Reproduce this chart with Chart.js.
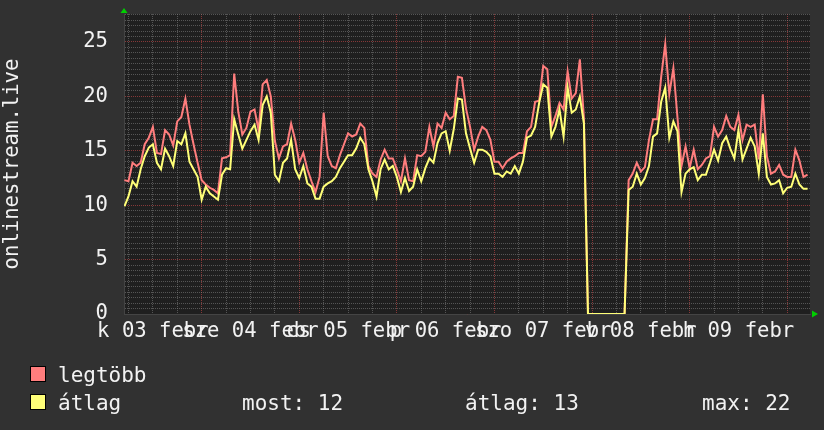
<!DOCTYPE html>
<html>
<head>
<meta charset="utf-8">
<script src="https://cdn.jsdelivr.net/npm/chart.js@4.4.1/dist/chart.umd.min.js"></script>
<style>
html, body { margin: 0; padding: 0; background: #313131; }
#wrap { position: relative; width: 824px; height: 430px; overflow: hidden; }
#chart { position: absolute; left: 0; top: 0; }
.leg { position: absolute; font-family: "DejaVu Sans Mono", monospace; font-size: 21px; line-height: 21px; color: #f2f2f2; white-space: pre; }
.box { position: absolute; width: 14px; height: 14px; border: 1px solid #000; }
</style>
</head>
<body>
<div id="wrap">
<canvas id="chart" width="824" height="430"></canvas>
<div class="box" style="left:30px; top:366px; background:#ff7d7d;"></div>
<div class="leg" style="left:58px; top:365px;">legtöbb</div>
<div class="box" style="left:30px; top:394px; background:#ffff78;"></div>
<div class="leg" style="left:58px; top:393px;">átlag</div>
<div class="leg" id="stMost" style="left:242px; top:393px;"></div>
<div class="leg" id="stAtlag" style="left:465px; top:393px;"></div>
<div class="leg" id="stMax" style="left:702px; top:393px;"></div>
</div>
<script>
// hourly samples, first one at 3 Feb 05:00 (hour 5 counted from 3 Feb 00:00)
const startHour = 5;
const legtobb = [
  12.3, 12.2, 13.9, 13.6, 13.9, 15.6, 16.2, 17.2, 14.8, 14.7, 16.9, 16.5, 15.5, 17.7, 18.1, 19.8, 17.4, 15.6, 13.9,
  12.3, 11.9, 11.6, 11.4, 11.1, 14.3, 14.4, 14.6, 22.1, 18.6, 16.5, 17.1, 18.6, 18.8, 16.9, 21.1, 21.5, 20.0, 15.9,
  14.3, 15.4, 15.6, 17.5, 16.0, 13.9, 14.8, 13.3, 12.2, 11.2, 12.6, 18.5, 14.5, 13.6, 13.4, 14.6, 15.6, 16.6, 16.3,
  16.5, 17.5, 17.1, 13.6, 12.9, 12.6, 14.2, 15.1, 14.3, 14.3, 13.3, 12.2, 14.3, 12.3, 12.2, 14.6, 14.5, 14.9, 17.2,
  15.4, 17.5, 17.1, 18.5, 17.9, 18.2, 21.8, 21.7, 18.9, 17.2, 15.1, 16.3, 17.2, 16.9, 16.0, 14.0, 14.0, 13.4, 14.0,
  14.3, 14.5, 14.8, 14.8, 16.8, 17.2, 19.5, 19.6, 22.8, 22.5, 17.2, 18.2, 19.4, 18.8, 22.3, 19.8, 20.3, 23.4, 18.0,
  0, 0, 0, 0, 0, 0, 0, 0, 0, 0,
  12.3, 12.9, 13.9, 13.1, 13.5, 16.0, 17.9, 17.9, 21.8, 24.8, 20.2, 22.6, 18.1, 13.6, 15.4, 13.4, 15.1, 13.3, 13.7,
  14.3, 14.5, 17.2, 16.3, 16.9, 18.2, 17.2, 16.9, 18.3, 16.0, 17.4, 17.2, 17.4, 14.2, 20.2, 14.5, 12.9, 13.1, 13.7,
  12.8, 12.6, 12.6, 15.1, 14.1, 12.6, 12.8
];
const atlag = [
  9.9, 10.8, 12.2, 11.7, 13.3, 14.5, 15.3, 15.6, 13.9, 13.3, 15.2, 14.5, 13.6, 15.9, 15.6, 16.6, 14.0, 13.3, 12.6,
  10.5, 11.7, 11.1, 10.8, 10.5, 12.8, 13.4, 13.3, 17.9, 16.5, 15.2, 16.0, 16.8, 17.4, 16.0, 19.2, 20.0, 18.5, 12.8,
  12.2, 13.9, 14.3, 16.0, 13.3, 12.5, 13.6, 12.0, 11.7, 10.6, 10.6, 11.7, 12.0, 12.2, 12.6, 13.4, 14.0, 14.6, 14.6,
  15.2, 16.2, 15.6, 13.3, 12.2, 10.8, 13.3, 14.2, 13.3, 13.6, 12.6, 11.2, 12.5, 11.3, 11.7, 13.3, 12.2, 13.4, 14.3,
  13.9, 15.7, 16.6, 16.8, 15.0, 17.0, 19.8, 19.7, 16.6, 15.2, 13.9, 15.1, 15.1, 14.9, 14.5, 12.9, 12.9, 12.6, 13.1,
  12.9, 13.6, 12.9, 14.0, 16.2, 16.4, 17.2, 19.4, 21.1, 20.8, 16.3, 17.2, 18.8, 16.3, 20.8, 18.5, 18.8, 20.0, 17.5,
  0, 0, 0, 0, 0, 0, 0, 0, 0, 0,
  11.4, 11.7, 12.9, 11.9, 12.5, 13.6, 16.3, 16.6, 19.5, 20.8, 16.2, 17.7, 16.8, 11.2, 12.9, 13.3, 13.5, 12.3, 12.8,
  12.8, 13.9, 15.1, 14.1, 15.7, 16.3, 15.2, 14.3, 16.9, 14.2, 15.2, 16.2, 15.4, 12.9, 16.6, 12.6, 11.9, 12.0, 12.3,
  11.1, 11.6, 11.7, 12.9, 11.9, 11.5, 11.5
];
// day labels centred at noon, Hungarian short names
const dayLabels = ['k 03 febr', 'sze 04 febr', 'cs 05 febr', 'p 06 febr', 'szo 07 febr', 'v 08 febr', 'h 09 febr'];
const yLabelValues = [0, 5, 10, 15, 20, 25];
const stats = { most: 12, atlag: 13, max: 22 };

document.getElementById('stMost').textContent = 'most: ' + stats.most;
document.getElementById('stAtlag').textContent = 'átlag: ' + stats.atlag;
document.getElementById('stMax').textContent = 'max: ' + stats.max;

const toPoints = arr => arr.map((v, i) => ({ x: startHour + i, y: v }));

const minorGrid = 'rgba(140,140,140,0.5)';
const majorGrid = 'rgba(190,70,70,0.65)';
const monoFont = { family: '"DejaVu Sans Mono", monospace', size: 20.6 };

// plot background + green axis arrows
const rrdDecor = {
  id: 'rrdDecor',
  beforeDraw(chart) {
    const { ctx, chartArea: a } = chart;
    ctx.save();
    ctx.fillStyle = '#1f1f1f';
    ctx.fillRect(a.left, a.top, a.right - a.left, a.bottom - a.top);
    ctx.restore();
  },
  afterDraw(chart) {
    const { ctx, chartArea: a } = chart;
    ctx.save();
    ctx.fillStyle = '#00d000';
    ctx.beginPath();
    ctx.moveTo(a.left - 3.5, a.top - 1);
    ctx.lineTo(a.left + 3.5, a.top - 1);
    ctx.lineTo(a.left, a.top - 6);
    ctx.closePath();
    ctx.fill();
    ctx.beginPath();
    ctx.moveTo(a.right + 2, a.bottom - 3.5);
    ctx.lineTo(a.right + 2, a.bottom + 3.5);
    ctx.lineTo(a.right + 8, a.bottom);
    ctx.closePath();
    ctx.fill();
    ctx.restore();
  }
};

// keep the plot box fixed: no extra room for half labels
const noPad = s => { s.paddingTop = 0; s.paddingBottom = 0; s.paddingLeft = 0; s.paddingRight = 0; };

new Chart(document.getElementById('chart'), {
  type: 'line',
  data: {
    datasets: [
      {
        label: 'átlag',
        data: toPoints(atlag),
        borderColor: '#ffff78',
        borderWidth: 2,
        pointRadius: 0,
        tension: 0,
        fill: false,
        order: 0
      },
      {
        label: 'legtöbb',
        data: toPoints(legtobb),
        borderColor: '#ff7d7d',
        borderWidth: 2,
        pointRadius: 0,
        tension: 0,
        fill: false,
        order: 1
      }
    ]
  },
  options: {
    responsive: false,
    animation: false,
    layout: { padding: { top: 14, right: 14, left: 0, bottom: 0 } },
    plugins: {
      legend: { display: false },
      tooltip: { enabled: false }
    },
    scales: {
      x: {
        type: 'linear',
        min: 4.9,
        max: 173.6,
        afterFit: s => { s.height = 116; noPad(s); },
        afterBuildTicks: s => {
          const t = [];
          for (let h = 6; h <= 173; h += 6) t.push({ value: h });
          s.ticks = t;
        },
        grid: {
          color: c => (c.tick && c.tick.value % 24 === 0 ? majorGrid : minorGrid),
          drawTicks: false
        },
        border: { display: true, color: '#444', dash: [1, 1] },
        ticks: {
          autoSkip: false,
          maxRotation: 0,
          minRotation: 0,
          padding: 5,
          color: '#f2f2f2',
          font: monoFont,
          callback: v => (v % 24 === 12 ? dayLabels[(v - 12) / 24] : '')
        }
      },
      y: {
        type: 'linear',
        min: 0,
        max: 27.57,
        afterFit: s => { s.width = 124; noPad(s); },
        afterBuildTicks: s => {
          const t = [];
          for (let v = 0; v <= 27.5; v += 0.5) t.push({ value: v });
          s.ticks = t;
        },
        grid: {
          color: c => (c.tick && c.tick.value % 5 === 0 ? majorGrid : minorGrid),
          drawTicks: false
        },
        border: { display: true, color: '#444', dash: [1, 1] },
        ticks: {
          autoSkip: false,
          padding: 16,
          color: '#f2f2f2',
          font: monoFont,
          callback: v => (yLabelValues.includes(v) ? String(v) : '')
        },
        title: {
          display: true,
          text: 'onlinestream.live',
          color: '#f2f2f2',
          font: monoFont,
          padding: 0
        }
      }
    }
  },
  plugins: [rrdDecor]
});
</script>
</body>
</html>
